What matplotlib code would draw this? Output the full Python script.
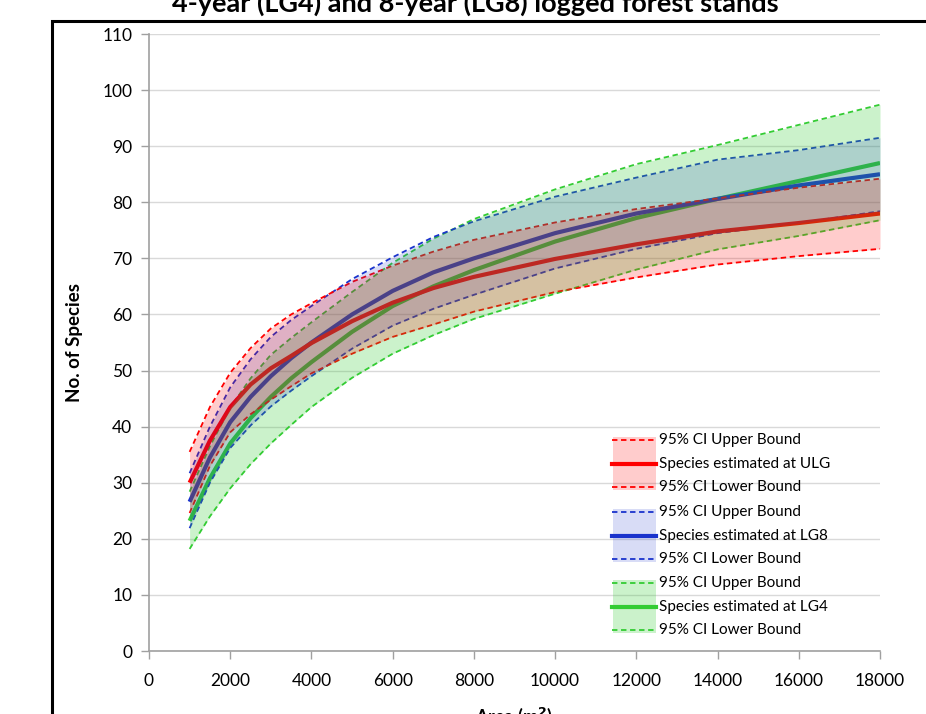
import matplotlib
matplotlib.use("Agg")
import matplotlib.pyplot as plt
from matplotlib.patches import Rectangle
from matplotlib.lines import Line2D

plt.rcParams['font.family'] = ['Lato', 'DejaVu Sans']

# ---- data ----
area = [1000, 1500, 2000, 2500, 3000, 3500, 4000, 5000, 6000, 7000, 8000,
        10000, 12000, 14000, 16000, 18000]

ulg_mean  = [30, 37.5, 43.5, 47.5, 50.4, 52.6, 54.9, 58.8, 62.1, 64.7, 66.7,
             69.9, 72.5, 74.8, 76.3, 78]
ulg_upper = [35.5, 43.5, 49.6, 54, 57.5, 60, 62, 65.8, 68.7, 71.2, 73.3,
             76.4, 78.8, 80.7, 82.6, 84.2]
ulg_lower = [24.6, 33, 39, 42.2, 44.8, 47.2, 49.5, 53, 56, 58.2, 60.5,
             64, 66.6, 68.9, 70.4, 71.7]

lg8_mean  = [26.6, 34.5, 40.8, 45.3, 49, 52.2, 55, 60, 64.2, 67.5, 70,
             74.5, 78, 80.6, 83, 85]
lg8_upper = [31.7, 40, 47, 52, 56, 59, 61.5, 66.3, 70.2, 73.8, 76.6,
             81, 84.4, 87.6, 89.3, 91.5]
lg8_lower = [21.9, 30, 36.2, 40.2, 43.6, 46.4, 49, 53.9, 58, 61, 63.5,
             68.2, 71.7, 74.5, 76.3, 78.4]

lg4_mean  = [23.2, 30.8, 37, 41.5, 45.3, 48.6, 51.5, 56.9, 61.5, 65, 67.9,
             73, 77.2, 80.6, 83.8, 87]
lg4_upper = [28.4, 36.5, 43.4, 48.6, 52.8, 55.8, 58.6, 64.0, 69.2, 73.5, 77.0,
             82.3, 86.8, 90.2, 93.8, 97.4]
lg4_lower = [18.2, 24, 29, 33.3, 37, 40.3, 43.5, 48.7, 53, 56.3, 59.2,
             63.7, 68, 71.6, 74, 76.8]

x_ticks = [0, 2000, 4000, 6000, 8000, 10000, 12000, 14000, 16000, 18000]
y_ticks = [0, 10, 20, 30, 40, 50, 60, 70, 80, 90, 100, 110]

title = "4-year (LG4) and 8-year (LG8) logged forest stands"
xlabel = "Area (m$^\\mathbf{2}$)"
ylabel = "No. of Species"

RED = (1.0, 0.0, 0.0)
BLUE = (0.10, 0.20, 0.80)
GREEN = (0.20, 0.80, 0.20)
series = [
    # (mean, upper, lower, colour, fill alpha, label)
    (lg4_mean, lg4_upper, lg4_lower, GREEN, 0.25, "LG4"),
    (lg8_mean, lg8_upper, lg8_lower, BLUE, 0.17, "LG8"),
    (ulg_mean, ulg_upper, ulg_lower, RED, 0.20, "ULG"),
]

W, H = 926, 714
fig = plt.figure(figsize=(W / 100, H / 100), dpi=100)
ax = fig.add_axes([149 / W, 1 - 651 / H, (880 - 149) / W, (651 - 34) / H])

# lines first (under the fills)
for mean, up, lo, col, a, lab in series:
    ax.plot(area, up, color=col, lw=1.3, ls=(0, (3, 2)), zorder=3)
    ax.plot(area, lo, color=col, lw=1.3, ls=(0, (3, 2)), zorder=3)
    ax.plot(area, mean, color=col, lw=3, zorder=3, solid_capstyle='butt',
            solid_joinstyle='round')
# fills on top
for i, (mean, up, lo, col, a, lab) in enumerate(series):
    ax.fill_between(area, lo, up, color=col, alpha=a, lw=0, zorder=4 + i)

ax.set_xlim(0, 18000)
ax.set_ylim(0, 110)
ax.set_xticks(x_ticks)
ax.set_yticks(y_ticks)
ax.tick_params(axis='both', labelsize=12.5, color='#a0a0a0', length=6, width=1)
ax.tick_params(axis='x', pad=10)
ax.tick_params(axis='y', pad=6)
ax.grid(axis='y', color='#d9d9d9', lw=1, zorder=0)
ax.set_axisbelow(True)
for s in ['top', 'right']:
    ax.spines[s].set_visible(False)
for s in ['left', 'bottom']:
    ax.spines[s].set_color('#a0a0a0')
    ax.spines[s].set_linewidth(1.2)

ax.set_xlabel(xlabel, fontsize=13, fontweight='bold', labelpad=12)
ax.set_ylabel(ylabel, fontsize=13.5, fontweight='bold', labelpad=14)

fig.text(475 / W, 1 - 12 / H, title, ha='center', va='baseline',
         fontsize=19.5, fontweight='bold')

# outer black frame (cut by figure edges)
fig.add_artist(Rectangle((52 / W, -0.2), 1.5, 1 - 21 / H + 0.2,
                         transform=fig.transFigure, fill=False,
                         edgecolor='black', lw=2.2, zorder=10))

# manual legend in pixel coordinates
def px(xp, yp):
    return (xp / W, 1 - yp / H)

groups = [(RED, 0.20, "ULG", 440), (BLUE, 0.17, "LG8", 512), (GREEN, 0.25, "LG4", 583)]
for col, a, lab, y0 in groups:
    y1, y2 = y0 + 24, y0 + 47
    x0, y_top = px(613, y0 - 3)
    _, y_bot = px(613, y2 + 3)
    fig.add_artist(Rectangle((x0, y_bot), 43 / W, y_top - y_bot,
                             transform=fig.transFigure, color=col, alpha=a,
                             lw=0, zorder=11))
    for yy, ls, lw, txt in [(y0, (0, (3, 2)), 1.3, "95% CI Upper Bound"),
                            (y1, '-', 3, "Species estimated at " + lab),
                            (y2, (0, (3, 2)), 1.3, "95% CI Lower Bound")]:
        xa, ya = px(612, yy)
        xb, _ = px(656, yy)
        fig.add_artist(Line2D([xa, xb], [ya, ya], transform=fig.transFigure,
                              color=col, lw=lw, ls=ls, zorder=12))
        tx, ty = px(659, yy)
        fig.text(tx, ty, txt, ha='left', va='center', fontsize=11, zorder=12)

fig.savefig("out.png", dpi=100)
